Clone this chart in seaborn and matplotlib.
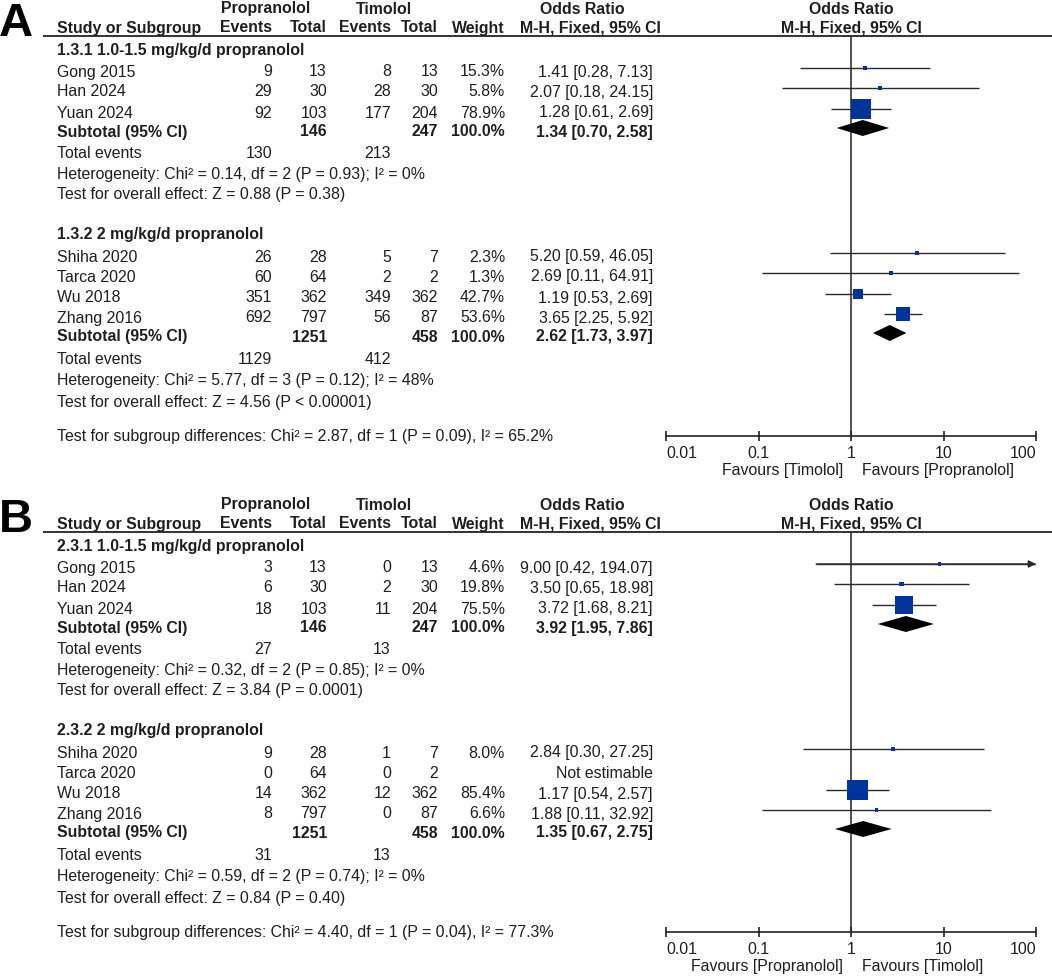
import numpy as np
import pandas as pd
import matplotlib
matplotlib.use("Agg")
import matplotlib.pyplot as plt
import seaborn as sns

sns.set_theme(style="white")
plt.rcParams['font.family'] = ['Liberation Sans', 'DejaVu Sans']

# ---------------- data ----------------
# Panel A, subgroup 1
A1_title = "1.3.1 1.0-1.5 mg/kg/d propranolol"
A1_study = ["Gong 2015", "Han 2024", "Yuan 2024"]
A1_ev_p = [9, 29, 92]
A1_tot_p = [13, 30, 103]
A1_ev_t = [8, 28, 177]
A1_tot_t = [13, 30, 204]
A1_weight = [15.3, 5.8, 78.9]
A1_or = [1.41, 2.07, 1.28]
A1_lo = [0.28, 0.18, 0.61]
A1_hi = [7.13, 24.15, 2.69]
A1_sub = [146, 247, 1.34, 0.70, 2.58]
A1_events = [130, 213]
A1_het = "Heterogeneity: Chi² = 0.14, df = 2 (P = 0.93); I² = 0%"
A1_test = "Test for overall effect: Z = 0.88 (P = 0.38)"
# Panel A, subgroup 2
A2_title = "1.3.2 2 mg/kg/d propranolol"
A2_study = ["Shiha 2020", "Tarca 2020", "Wu 2018", "Zhang 2016"]
A2_ev_p = [26, 60, 351, 692]
A2_tot_p = [28, 64, 362, 797]
A2_ev_t = [5, 2, 349, 56]
A2_tot_t = [7, 2, 362, 87]
A2_weight = [2.3, 1.3, 42.7, 53.6]
A2_or = [5.20, 2.69, 1.19, 3.65]
A2_lo = [0.59, 0.11, 0.53, 2.25]
A2_hi = [46.05, 64.91, 2.69, 5.92]
A2_sub = [1251, 458, 2.62, 1.73, 3.97]
A2_events = [1129, 412]
A2_het = "Heterogeneity: Chi² = 5.77, df = 3 (P = 0.12); I² = 48%"
A2_test = "Test for overall effect: Z = 4.56 (P < 0.00001)"
A_diff = "Test for subgroup differences: Chi² = 2.87, df = 1 (P = 0.09), I² = 65.2%"
A_fav = ["Favours [Timolol]", "Favours [Propranolol]"]

# Panel B, subgroup 1
B1_title = "2.3.1 1.0-1.5 mg/kg/d propranolol"
B1_study = ["Gong 2015", "Han 2024", "Yuan 2024"]
B1_ev_p = [3, 6, 18]
B1_tot_p = [13, 30, 103]
B1_ev_t = [0, 2, 11]
B1_tot_t = [13, 30, 204]
B1_weight = [4.6, 19.8, 75.5]
B1_or = [9.00, 3.50, 3.72]
B1_lo = [0.42, 0.65, 1.68]
B1_hi = [194.07, 18.98, 8.21]
B1_sub = [146, 247, 3.92, 1.95, 7.86]
B1_events = [27, 13]
B1_het = "Heterogeneity: Chi² = 0.32, df = 2 (P = 0.85); I² = 0%"
B1_test = "Test for overall effect: Z = 3.84 (P = 0.0001)"
# Panel B, subgroup 2
B2_title = "2.3.2 2 mg/kg/d propranolol"
B2_study = ["Shiha 2020", "Tarca 2020", "Wu 2018", "Zhang 2016"]
B2_ev_p = [9, 0, 14, 8]
B2_tot_p = [28, 64, 362, 797]
B2_ev_t = [1, 0, 12, 0]
B2_tot_t = [7, 2, 362, 87]
B2_weight = [8.0, np.nan, 85.4, 6.6]
B2_or = [2.84, np.nan, 1.17, 1.88]
B2_lo = [0.30, np.nan, 0.54, 0.11]
B2_hi = [27.25, np.nan, 2.57, 32.92]
B2_sub = [1251, 458, 1.35, 0.67, 2.75]
B2_events = [31, 13]
B2_het = "Heterogeneity: Chi² = 0.59, df = 2 (P = 0.74); I² = 0%"
B2_test = "Test for overall effect: Z = 0.84 (P = 0.40)"
B_diff = "Test for subgroup differences: Chi² = 4.40, df = 1 (P = 0.04), I² = 77.3%"
B_fav = ["Favours [Propranolol]", "Favours [Timolol]"]

tick_vals = [0.01, 0.1, 1, 10, 100]
tick_labels = ["0.01", "0.1", "1", "10", "100"]

# ---------------- layout ----------------
W, H = 1052, 977
FS = 11.4
TXT = "#1e1e1e"
BLUE = "#003399"
ROW_Y = [50, 72, 92, 113, 132, 153, 175, 195, 235, 257, 277, 298, 318, 337, 359, 381, 402, 437]
X_STUDY, X_EVP, X_TOTP, X_EVT, X_TOTT, X_W, X_OR = 57, 272, 327, 391, 438, 505, 653
PLOT_L, PLOT_R = 666, 1036
MARK_DY = -4


def build(title, study, ev_p, tot_p, ev_t, tot_t, weight, orv, lo, hi, sub, events, het, test):
    df = pd.DataFrame(dict(study=study, ev_p=ev_p, tot_p=tot_p, ev_t=ev_t, tot_t=tot_t,
                           weight=weight, OR=orv, lo=lo, hi=hi))
    return dict(title=title, df=df, sub=sub, events=events, het=het, test=test)


panels = [
    dict(letter="A", off=0, diff=A_diff, fav=A_fav,
         groups=[build(A1_title, A1_study, A1_ev_p, A1_tot_p, A1_ev_t, A1_tot_t, A1_weight, A1_or, A1_lo, A1_hi,
                       A1_sub, A1_events, A1_het, A1_test),
                 build(A2_title, A2_study, A2_ev_p, A2_tot_p, A2_ev_t, A2_tot_t, A2_weight, A2_or, A2_lo, A2_hi,
                       A2_sub, A2_events, A2_het, A2_test)]),
    dict(letter="B", off=496, diff=B_diff, fav=B_fav,
         groups=[build(B1_title, B1_study, B1_ev_p, B1_tot_p, B1_ev_t, B1_tot_t, B1_weight, B1_or, B1_lo, B1_hi,
                       B1_sub, B1_events, B1_het, B1_test),
                 build(B2_title, B2_study, B2_ev_p, B2_tot_p, B2_ev_t, B2_tot_t, B2_weight, B2_or, B2_lo, B2_hi,
                       B2_sub, B2_events, B2_het, B2_test)]),
]

fig = plt.figure(figsize=(W / 100, H / 100), dpi=100)
fig.patch.set_facecolor("white")
tax = fig.add_axes([0, 0, 1, 1])
tax.set_xlim(0, W)
tax.set_ylim(H, 0)
tax.axis("off")


def t(x, y, s, ha="left", bold=False, size=FS, color=TXT):
    tax.text(x, y, s, ha=ha, va="center", fontsize=size,
             fontweight="bold" if bold else "normal", color=color)


def fmt_ci(o, l, h):
    if np.isnan(o):
        return "Not estimable"
    return f"{o:.2f} [{l:.2f}, {h:.2f}]"


for p in panels:
    off = p["off"]
    # letter
    tax.text(-1, off + 36, p["letter"], ha="left", va="baseline", fontsize=34, fontweight="bold", color="black")
    # headers
    t(266, off + 9, "Propranolol", ha="center", bold=True)
    t(384, off + 9, "Timolol", ha="center", bold=True)
    t(582, off + 9, "Odds Ratio", ha="center", bold=True)
    t(851, off + 9, "Odds Ratio", ha="center", bold=True)
    t(X_STUDY, off + 28, "Study or Subgroup", bold=True)
    t(X_EVP, off + 28, "Events", ha="right", bold=True)
    t(X_TOTP, off + 28, "Total", ha="right", bold=True)
    t(X_EVT, off + 28, "Events", ha="right", bold=True)
    t(X_TOTT, off + 28, "Total", ha="right", bold=True)
    t(X_W, off + 28, "Weight", ha="right", bold=True)
    t(590, off + 28, "M-H, Fixed, 95% CI", ha="center", bold=True)
    t(851, off + 28, "M-H, Fixed, 95% CI", ha="center", bold=True)
    tax.plot([43, W], [off + 36, off + 36], color="#222222", lw=1.3, solid_capstyle="butt")

    # forest axes in pixel-y coordinates
    yt, yb = off + 36, off + 436
    ax = fig.add_axes([PLOT_L / W, 1 - yb / H, (PLOT_R - PLOT_L) / W, (yb - yt) / H])
    ax.set_xscale("log")
    ax.set_xlim(tick_vals[0], tick_vals[-1])
    ax.set_ylim(yb, yt)
    ax.patch.set_alpha(0)
    for s in ["top", "left", "right"]:
        ax.spines[s].set_visible(False)
    ax.spines["bottom"].set_color("#222222")
    ax.spines["bottom"].set_linewidth(1.2)
    ax.set_yticks([])
    ax.set_xticks(tick_vals)
    ax.set_xticklabels(tick_labels)
    ax.minorticks_off()
    ax.tick_params(axis="x", direction="inout", length=7, width=1.2, color="#222222",
                   labelsize=FS, labelcolor=TXT, pad=4, bottom=True)
    lbls = ax.get_xticklabels()
    lbls[0].set_ha("left")
    lbls[-1].set_ha("right")
    ax.axvline(1, color="#222222", lw=1.1, zorder=1)

    idx_sets = [(0, [1, 2, 3], 4, 5, 6, 7), (8, [9, 10, 11, 12], 13, 14, 15, 16)]
    for g, (ih, istud, isub, itot, ihet, itest) in zip(p["groups"], idx_sets):
        df = g["df"].copy()
        y_text = [off + ROW_Y[i] for i in istud]
        df["y"] = [y + MARK_DY for y in y_text]
        t(X_STUDY, off + ROW_Y[ih], g["title"], bold=True)
        for (_, r), yy in zip(df.iterrows(), y_text):
            t(X_STUDY, yy, r["study"])
            t(X_EVP, yy, f"{int(r['ev_p'])}", ha="right")
            t(X_TOTP, yy, f"{int(r['tot_p'])}", ha="right")
            t(X_EVT, yy, f"{int(r['ev_t'])}", ha="right")
            t(X_TOTT, yy, f"{int(r['tot_t'])}", ha="right")
            if not np.isnan(r["weight"]):
                t(X_W, yy, f"{r['weight']:.1f}%", ha="right")
            t(X_OR, yy, fmt_ci(r["OR"], r["lo"], r["hi"]), ha="right")
        # subtotal row
        ys = off + ROW_Y[isub]
        st = g["sub"]
        t(X_STUDY, ys, "Subtotal (95% CI)", bold=True)
        t(X_TOTP, ys, f"{st[0]}", ha="right", bold=True)
        t(X_TOTT, ys, f"{st[1]}", ha="right", bold=True)
        t(X_W, ys, "100.0%", ha="right", bold=True)
        t(X_OR, ys, fmt_ci(st[2], st[3], st[4]), ha="right", bold=True)
        t(X_STUDY, off + ROW_Y[itot], "Total events")
        t(X_EVP, off + ROW_Y[itot], f"{g['events'][0]}", ha="right")
        t(X_EVT, off + ROW_Y[itot], f"{g['events'][1]}", ha="right")
        t(X_STUDY, off + ROW_Y[ihet], g["het"])
        t(X_STUDY, off + ROW_Y[itest], g["test"])

        # forest marks
        est = df.dropna(subset=["OR"]).copy()
        clip_hi = est["hi"].clip(upper=tick_vals[-1])
        ax.hlines(est["y"], est["lo"], clip_hi, color="#2a2a2a", lw=1.0, zorder=2)
        over = est[est["hi"] > tick_vals[-1]]
        for _, r in over.iterrows():
            ax.annotate("", xy=(tick_vals[-1], r["y"]), xytext=(r["lo"], r["y"]),
                        arrowprops=dict(arrowstyle="-|>", lw=1.0, color="#2a2a2a",
                                        mutation_scale=11, shrinkA=0, shrinkB=0),
                        annotation_clip=False, zorder=2)
        side_px = np.maximum(3.5, 0.245 * est["weight"].to_numpy())
        sizes = (side_px * 0.72) ** 2
        sns.scatterplot(x=est["OR"].to_numpy(), y=est["y"].to_numpy(), s=sizes, marker="s",
                        color=BLUE, linewidth=0, ax=ax, legend=False, zorder=3)
        yd = ys + MARK_DY
        ax.fill([st[3], st[2], st[4], st[2]], [yd, yd - 8, yd, yd + 8], color="black", lw=0, zorder=3)

    t(X_STUDY, off + ROW_Y[17], p["diff"])
    t(843, off + 471, p["fav"][0], ha="right")
    t(862, off + 471, p["fav"][1], ha="left")
    ax.set_xlabel("")
    ax.set_ylabel("")

fig.savefig("out.png", dpi=100, facecolor="white")
